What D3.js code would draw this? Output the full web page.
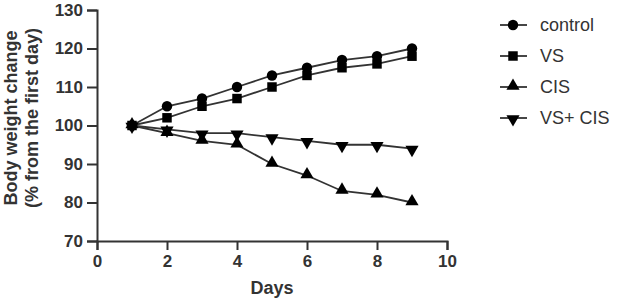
<!DOCTYPE html>
<html>
<head>
<meta charset="utf-8">
<script src="https://cdn.jsdelivr.net/npm/d3@7"></script>
<style>
  body { margin: 0; background: #fff; }
  svg { display: block; font-family: "Liberation Sans", Arial, sans-serif; }
</style>
</head>
<body>
<svg id="chart" width="618" height="304"></svg>
<script>
// data
const days = [1, 2, 3, 4, 5, 6, 7, 8, 9]
const control = [100, 105, 107, 110, 113, 115, 117, 118, 120]
const vs = [100, 102, 105, 107, 110, 113, 115, 116, 118]
const cis = [100, 98, 96, 95, 90, 87, 83, 82, 80]
const vsCis = [100, 99, 98, 98, 97, 96, 95, 95, 94]
const seriesNames = ["control", "VS", "CIS", "VS+ CIS"]
const xTicks = [0, 2, 4, 6, 8, 10]
const yTicks = [70, 80, 90, 100, 110, 120, 130]

const series = [
    { name: seriesNames[0], values: control, shape: "circle" },
    { name: seriesNames[1], values: vs, shape: "square" },
    { name: seriesNames[2], values: cis, shape: "up" },
    { name: seriesNames[3], values: vsCis, shape: "down" }
]

const svg = d3.select("#chart")
const plotLeft = 97, plotRight = 447, plotTop = 10, plotBottom = 241
const ink = "#333"

const x = d3.scaleLinear().domain([0, 10]).range([plotLeft, plotRight])
const y = d3.scaleLinear().domain([70, 130]).range([plotBottom, plotTop])

// axes
const xAxis = svg.append("g")
    .attr("transform", "translate(0," + plotBottom + ")")
    .call(d3.axisBottom(x).tickValues(xTicks).tickSize(9).tickPadding(5))
const yAxis = svg.append("g")
    .attr("transform", "translate(" + plotLeft + ",0)")
    .call(d3.axisLeft(y).tickValues(yTicks).tickSize(10).tickPadding(4))

;[xAxis, yAxis].forEach(function (g) {
    g.select(".domain").attr("stroke", ink).attr("stroke-width", 2)
    g.selectAll(".tick line").attr("stroke", ink).attr("stroke-width", 2)
    g.selectAll(".tick text")
     .attr("fill", ink)
     .attr("font-size", 17)
     .attr("font-weight", "bold")
     .attr("font-family", "Liberation Sans, Arial, sans-serif")
})

// axis titles
svg.append("text")
   .attr("x", (plotLeft + plotRight) / 2)
   .attr("y", 294)
   .attr("text-anchor", "middle")
   .attr("font-size", 18)
   .attr("font-weight", "bold")
   .attr("fill", ink)
   .text("Days")

const yTitle = svg.append("text")
   .attr("transform", "translate(17," + 118 + ") rotate(-90)")
   .attr("text-anchor", "middle")
   .attr("font-size", 18)
   .attr("font-weight", "bold")
   .attr("fill", ink)
yTitle.append("tspan").attr("x", 0).attr("dy", 0).text("Body weight change")
yTitle.append("tspan").attr("x", 0).attr("dy", 21).text("(% from the first day)")

// marker drawing
function symbolFor(shape) {
    if (shape === "circle") return d3.symbol().type(d3.symbolCircle).size(85)
    if (shape === "square") return d3.symbol().type(d3.symbolSquare).size(90)
    return d3.symbol().type(d3.symbolTriangle).size(75)
}
function markerTransform(shape, px, py) {
    if (shape === "down") return "translate(" + px + "," + (py + 1) + ") rotate(180)"
    if (shape === "up") return "translate(" + px + "," + (py - 1) + ")"
    return "translate(" + px + "," + py + ")"
}

const line = d3.line()
    .x(function (d, i) { return x(days[i]) })
    .y(function (d) { return y(d) })

series.forEach(function (s) {
    svg.append("path")
       .datum(s.values)
       .attr("d", line)
       .attr("fill", "none")
       .attr("stroke", ink)
       .attr("stroke-width", 1.8)
})

series.forEach(function (s) {
    svg.append("g")
       .selectAll("path")
       .data(s.values)
       .join("path")
       .attr("d", symbolFor(s.shape))
       .attr("transform", function (d, i) { return markerTransform(s.shape, x(days[i]), y(d)) })
       .attr("fill", "#000")
})

// legend
const legend = svg.append("g")
series.forEach(function (s, i) {
    const ly = 25 + i * 31
    legend.append("line")
          .attr("x1", 500).attr("x2", 527)
          .attr("y1", ly).attr("y2", ly)
          .attr("stroke", ink)
          .attr("stroke-width", 1.8)
    legend.append("path")
          .attr("d", symbolFor(s.shape))
          .attr("transform", markerTransform(s.shape, 513, ly))
          .attr("fill", "#000")
    legend.append("text")
          .attr("x", 540)
          .attr("y", ly)
          .attr("dy", "0.36em")
          .attr("font-size", 18)
          .attr("fill", ink)
          .text(s.name)
})
</script>
</body>
</html>
